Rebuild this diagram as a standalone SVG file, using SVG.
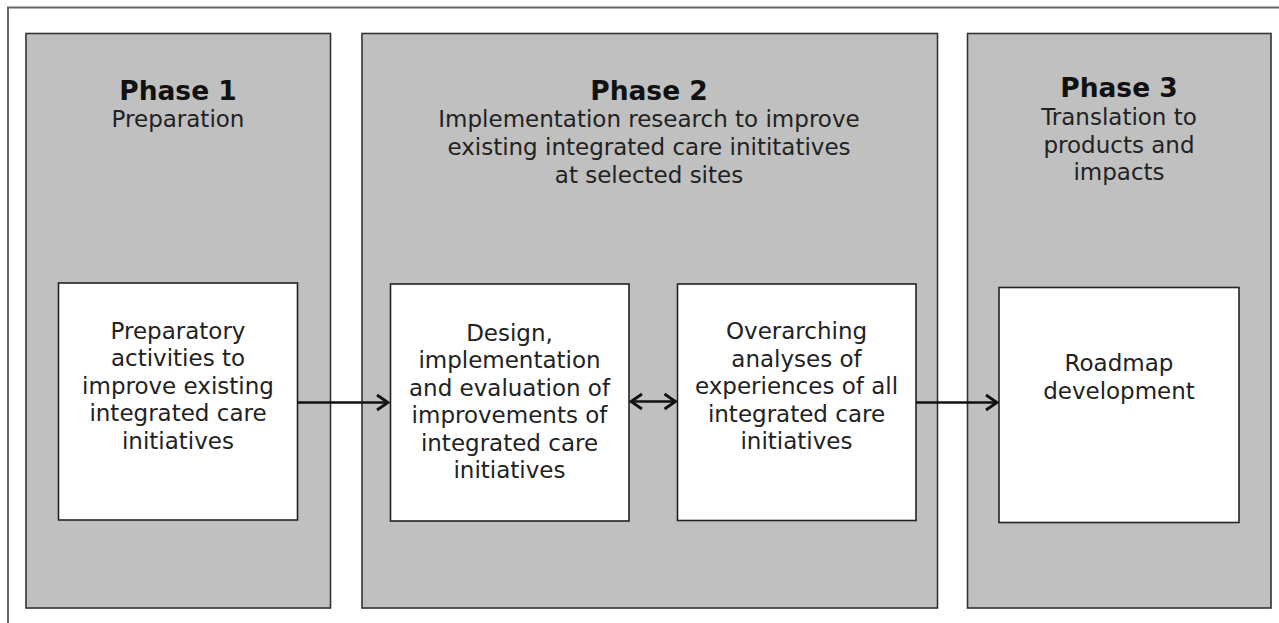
<svg xmlns="http://www.w3.org/2000/svg" width="1279" height="623" viewBox="0 0 1279 623">
<style>
.phase{fill:#c0c0c0;stroke:#333;stroke-width:1.6}
.box{fill:#fff;stroke:#222;stroke-width:1.6}
.title{font-family:"DejaVu Sans",Verdana,sans-serif;font-weight:bold;font-size:26.5px;fill:#111;text-anchor:middle}
.sub{font-family:"DejaVu Sans",Verdana,sans-serif;font-size:23px;fill:#222;text-anchor:middle}
.conn{stroke:#111;stroke-width:2.4;fill:none}
</style>
<defs>
<marker id="ah" markerUnits="userSpaceOnUse" markerWidth="16" markerHeight="20" refX="13" refY="10" orient="auto-start-reverse">
<path d="M2,2.5 L13,10 L2,17.5" fill="none" stroke="#111" stroke-width="2.8"/>
</marker>
</defs>
<rect width="1279" height="623" fill="#fff"/>
<path d="M8,623 V7.5 H1279" fill="none" stroke="#666" stroke-width="2"/>
<g id="phase1">
<rect class="phase" x="26" y="33.5" width="304.5" height="574.5"/>
<text class="title" x="178" y="100">Phase 1</text>
<text class="sub" x="178" y="127">Preparation</text>
</g>
<g id="phase2">
<rect class="phase" x="362" y="33.5" width="575.5" height="574.5"/>
<text class="title" x="649" y="100">Phase 2</text>
<text class="sub" x="649" y="127">Implementation research to improve</text>
<text class="sub" x="649" y="155">existing integrated care inititatives</text>
<text class="sub" x="649" y="183">at selected sites</text>
</g>
<g id="phase3">
<rect class="phase" x="967.5" y="33.5" width="303.5" height="574.5"/>
<text class="title" x="1119" y="97">Phase 3</text>
<text class="sub" x="1119" y="125">Translation to</text>
<text class="sub" x="1119" y="152.5">products and</text>
<text class="sub" x="1119" y="180">impacts</text>
</g>
<g id="prep">
<rect class="box" x="58.5" y="283" width="239" height="237"/>
<text class="sub" x="178" y="338.5">Preparatory</text>
<text class="sub" x="178" y="366">activities to</text>
<text class="sub" x="178" y="393.5">improve existing</text>
<text class="sub" x="178" y="421">integrated care</text>
<text class="sub" x="178" y="448.5">initiatives</text>
</g>
<g id="design">
<rect class="box" x="390.5" y="284" width="238.5" height="237"/>
<text class="sub" x="509.5" y="340.5">Design,</text>
<text class="sub" x="509.5" y="368">implementation</text>
<text class="sub" x="509.5" y="395.5">and evaluation of</text>
<text class="sub" x="509.5" y="423">improvements of</text>
<text class="sub" x="509.5" y="450.5">integrated care</text>
<text class="sub" x="509.5" y="478">initiatives</text>
</g>
<g id="overarching">
<rect class="box" x="677.5" y="284" width="238.5" height="236.5"/>
<text class="sub" x="796.5" y="339">Overarching</text>
<text class="sub" x="796.5" y="366.5">analyses of</text>
<text class="sub" x="796.5" y="394">experiences of all</text>
<text class="sub" x="796.5" y="421.5">integrated care</text>
<text class="sub" x="796.5" y="449">initiatives</text>
</g>
<g id="roadmap">
<rect class="box" x="999" y="287.5" width="240" height="235"/>
<text class="sub" x="1119" y="371">Roadmap</text>
<text class="sub" x="1119" y="398.5">development</text>
</g>
<g id="connectors">
<line class="conn" x1="297.5" y1="402.5" x2="388" y2="402.5" marker-end="url(#ah)"/>
<line class="conn" x1="631" y1="401.5" x2="675.5" y2="401.5" marker-start="url(#ah)" marker-end="url(#ah)"/>
<line class="conn" x1="916" y1="402.5" x2="997" y2="402.5" marker-end="url(#ah)"/>
</g>
</svg>
